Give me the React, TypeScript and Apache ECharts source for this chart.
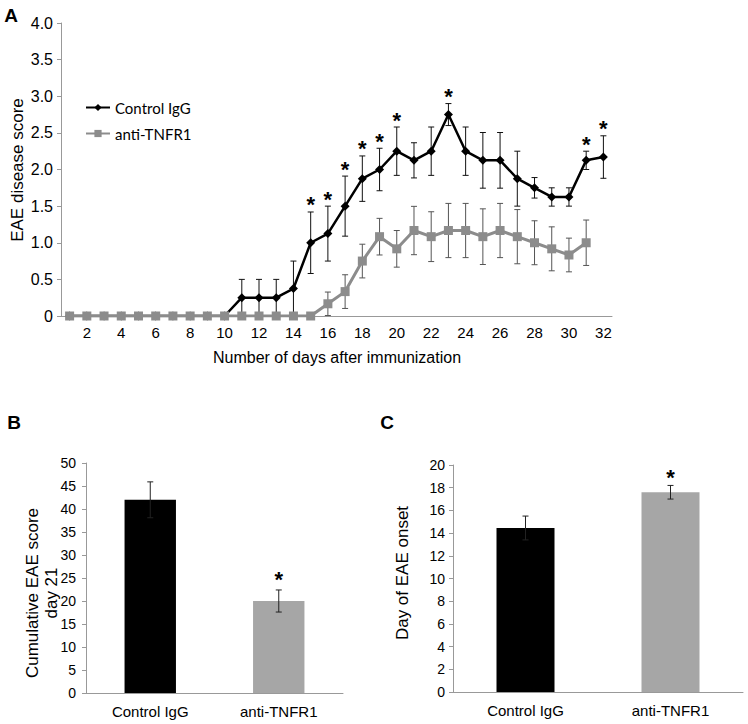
import React, { useEffect, useRef } from "react";
import * as echarts from "echarts";

const days = Array.from({ length: 32 }, (_, i) => String(i + 1));
const controlMean = [0, 0, 0, 0, 0, 0, 0, 0, 0, 0, 0.25, 0.25, 0.25, 0.375, 1.0, 1.125, 1.5, 1.875, 2.0, 2.25, 2.125, 2.25, 2.75, 2.25, 2.125, 2.125, 1.875, 1.75, 1.625, 1.625, 2.125, 2.17];
const controlErr = [0, 0, 0, 0, 0, 0, 0, 0, 0, 0, 0.25, 0.25, 0.25, 0.375, 0.42, 0.375, 0.41, 0.31, 0.29, 0.33, 0.24, 0.33, 0.15, 0.33, 0.38, 0.38, 0.375, 0.14, 0.125, 0.125, 0.125, 0.29];
const antiMean: (number | null)[] = [0, 0, 0, 0, 0, 0, 0, 0, 0, 0, 0, 0, 0, 0, 0, 0.167, 0.333, 0.75, 1.083, 0.917, 1.167, 1.083, 1.167, 1.167, 1.083, 1.167, 1.083, 1.0, 0.917, 0.833, 1.0, null];
const antiErr = [0, 0, 0, 0, 0, 0, 0, 0, 0, 0, 0, 0, 0, 0, 0, 0.16, 0.23, 0.23, 0.25, 0.25, 0.33, 0.34, 0.37, 0.37, 0.38, 0.37, 0.37, 0.3, 0.3, 0.23, 0.31, 0];
const starDays = [15, 16, 17, 18, 19, 20, 23, 31, 32];

const groups = ["Control IgG", "anti-TNFR1"];
const cumulativeMean = [42.0, 20.0];
const cumulativeErr = [3.9, 2.4];
const onsetMean = [14.45, 17.6];
const onsetErr = [1.05, 0.6];
const barStarB = [1];
const barStarC = [1];

const FONT = "'Liberation Sans', Arial, sans-serif";

function errorRender(color: string, hw: number) {
  return (params: any, api: any) => {
    const x = api.value(0);
    const m = api.value(1);
    const e = api.value(2);
    if (!e) return null;
    const top = api.coord([x, m + e]);
    const bot = api.coord([x, Math.max(0, m - e)]);
    const st = { stroke: color, lineWidth: 1 };
    return {
      type: "group",
      children: [
        { type: "line", shape: { x1: top[0], y1: top[1], x2: bot[0], y2: bot[1] }, style: st },
        { type: "line", shape: { x1: top[0] - hw, y1: top[1], x2: top[0] + hw, y2: top[1] }, style: st },
        { type: "line", shape: { x1: bot[0] - hw, y1: bot[1], x2: bot[0] + hw, y2: bot[1] }, style: st },
      ],
    };
  };
}

function starRender(offset: number) {
  return (params: any, api: any) => {
    const p = api.coord([api.value(0), api.value(1)]);
    return {
      type: "text",
      x: p[0],
      y: p[1] - offset,
      style: {
        text: "*",
        fill: "#000",
        fontSize: 22,
        fontWeight: "bold",
        fontFamily: FONT,
        align: "center",
        verticalAlign: "middle",
        textAlign: "center",
        textVerticalAlign: "middle",
      },
    };
  };
}

const axisLineStyle = { lineStyle: { color: "#999", width: 1 } };

function titleText(text: string, x: number, y: number, size: number, rotate: boolean, bold = false) {
  return {
    type: "text",
    x,
    y,
    rotation: rotate ? Math.PI / 2 : 0,
    style: {
      text,
      fill: "#000",
      fontSize: size,
      fontWeight: bold ? "bold" : "normal",
      fontFamily: FONT,
      textAlign: "center",
      textVerticalAlign: "middle",
    },
  };
}

export default function App() {
  const ref = useRef<HTMLDivElement>(null);
  useEffect(() => {
    if (!ref.current) return;
    const chart = echarts.init(ref.current, undefined, { renderer: "svg" });

    const ctrlErrData = controlMean.map((m, i) => [i, m, controlErr[i]]);
    const antiErrData = antiMean
      .map((m, i) => (m === null ? null : [i, m, antiErr[i]]))
      .filter((d) => d !== null);
    const starData = starDays.map((d) => [d - 1, controlMean[d - 1] + controlErr[d - 1]]);

    const bErr = cumulativeMean.map((m, i) => [i, m, cumulativeErr[i]]);
    const cErr = onsetMean.map((m, i) => [i, m, onsetErr[i]]);
    const bStar = barStarB.map((i) => [i, cumulativeMean[i] + cumulativeErr[i]]);
    const cStar = barStarC.map((i) => [i, onsetMean[i] + onsetErr[i]]);

    const barColors = ["#000000", "#a6a6a6"];

    chart.setOption({
      animation: false,
      backgroundColor: "#fff",
      legend: {
        orient: "vertical",
        left: 80,
        top: 95,
        itemWidth: 24,
        itemHeight: 9,
        itemGap: 11,
        data: ["Control IgG", "anti-TNFR1"],
        textStyle: { fontFamily: "Lato, 'Open Sans', sans-serif", fontSize: 15, color: "#000" },
      },
      grid: [
        { left: 61, top: 23, width: 551, height: 293 },
        { left: 86, top: 463, width: 257, height: 230 },
        { left: 453, top: 465, width: 290, height: 227 },
      ],
      xAxis: [
        {
          type: "category",
          gridIndex: 0,
          data: days,
          axisLine: axisLineStyle,
          axisTick: { interval: 0, length: 4, lineStyle: { color: "#999" } },
          axisLabel: {
            interval: (i: number) => i % 2 === 1,
            fontFamily: FONT,
            fontSize: 15,
            color: "#000",
            margin: 9,
          },
        },
        {
          type: "category",
          gridIndex: 1,
          data: groups,
          axisLine: axisLineStyle,
          axisTick: { length: 4, lineStyle: { color: "#999" } },
          axisLabel: { fontFamily: FONT, fontSize: 15, color: "#000", margin: 11 },
        },
        {
          type: "category",
          gridIndex: 2,
          data: groups,
          axisLine: axisLineStyle,
          axisTick: { length: 4, lineStyle: { color: "#999" } },
          axisLabel: { fontFamily: FONT, fontSize: 15, color: "#000", margin: 11 },
        },
      ],
      yAxis: [
        {
          type: "value",
          gridIndex: 0,
          min: 0,
          max: 4,
          interval: 0.5,
          splitLine: { show: false },
          axisLine: { show: true, ...axisLineStyle },
          axisTick: { show: true, length: 4, lineStyle: { color: "#999" } },
          axisLabel: {
            fontFamily: FONT,
            fontSize: 16,
            color: "#000",
            margin: 8,
            formatter: (v: number) => (v === 0 ? "0" : v.toFixed(1)),
          },
        },
        {
          type: "value",
          gridIndex: 1,
          min: 0,
          max: 50,
          interval: 5,
          splitLine: { show: false },
          axisLine: { show: true, ...axisLineStyle },
          axisTick: { show: true, length: 4, lineStyle: { color: "#999" } },
          axisLabel: { fontFamily: FONT, fontSize: 14, color: "#000", margin: 10 },
        },
        {
          type: "value",
          gridIndex: 2,
          min: 0,
          max: 20,
          interval: 2,
          splitLine: { show: false },
          axisLine: { show: true, ...axisLineStyle },
          axisTick: { show: true, length: 4, lineStyle: { color: "#999" } },
          axisLabel: { fontFamily: FONT, fontSize: 14, color: "#000", margin: 8 },
        },
      ],
      series: [
        {
          type: "custom",
          name: "ctrlErr",
          xAxisIndex: 0,
          yAxisIndex: 0,
          data: ctrlErrData,
          renderItem: errorRender("#111", 3),
          z: 1,
          silent: true,
        },
        {
          type: "custom",
          name: "antiErr",
          xAxisIndex: 0,
          yAxisIndex: 0,
          data: antiErrData,
          renderItem: errorRender("#555", 3),
          z: 1,
          silent: true,
        },
        {
          type: "line",
          name: "Control IgG",
          xAxisIndex: 0,
          yAxisIndex: 0,
          data: controlMean,
          symbol: "diamond",
          symbolSize: 9,
          itemStyle: { color: "#000" },
          lineStyle: { color: "#000", width: 2.5 },
          z: 3,
        },
        {
          type: "line",
          name: "anti-TNFR1",
          xAxisIndex: 0,
          yAxisIndex: 0,
          data: antiMean.map((v) => (v === null ? "-" : v)),
          symbol: "rect",
          symbolSize: 9,
          itemStyle: { color: "#8c8c8c" },
          lineStyle: { color: "#8c8c8c", width: 3 },
          z: 4,
        },
        {
          type: "custom",
          name: "starsA",
          xAxisIndex: 0,
          yAxisIndex: 0,
          data: starData,
          renderItem: starRender(7),
          z: 5,
        },
        {
          type: "bar",
          name: "cumulative",
          xAxisIndex: 1,
          yAxisIndex: 1,
          barWidth: "40%",
          data: cumulativeMean.map((v, i) => ({ value: v, itemStyle: { color: barColors[i] } })),
        },
        {
          type: "custom",
          name: "bErr",
          xAxisIndex: 1,
          yAxisIndex: 1,
          data: bErr,
          renderItem: errorRender("#222", 3),
          z: 5,
        },
        {
          type: "custom",
          name: "bStar",
          xAxisIndex: 1,
          yAxisIndex: 1,
          data: bStar,
          renderItem: starRender(10),
          z: 5,
        },
        {
          type: "bar",
          name: "onset",
          xAxisIndex: 2,
          yAxisIndex: 2,
          barWidth: "40%",
          data: onsetMean.map((v, i) => ({ value: v, itemStyle: { color: barColors[i] } })),
        },
        {
          type: "custom",
          name: "cErr",
          xAxisIndex: 2,
          yAxisIndex: 2,
          data: cErr,
          renderItem: errorRender("#222", 3),
          z: 5,
        },
        {
          type: "custom",
          name: "cStar",
          xAxisIndex: 2,
          yAxisIndex: 2,
          data: cStar,
          renderItem: starRender(8),
          z: 5,
        },
      ],
      graphic: [
        titleText("A", 11, 15, 19, false, true),
        titleText("B", 14, 422, 19, false, true),
        titleText("C", 387, 422, 19, false, true),
        titleText("EAE disease score", 17, 170, 17, true),
        titleText("Number of days after immunization", 337, 357, 16, false),
        titleText("Cumulative EAE score", 32, 593, 17, true),
        titleText("day 21", 51, 593, 17, true),
        titleText("Day of EAE onset", 402, 573, 17, true),
      ],
    });
    return () => chart.dispose();
  }, []);
  return (
    <div
      ref={ref}
      style={{ position: "absolute", left: 0, top: 0, width: 748, height: 724, background: "#fff" }}
    />
  );
}
